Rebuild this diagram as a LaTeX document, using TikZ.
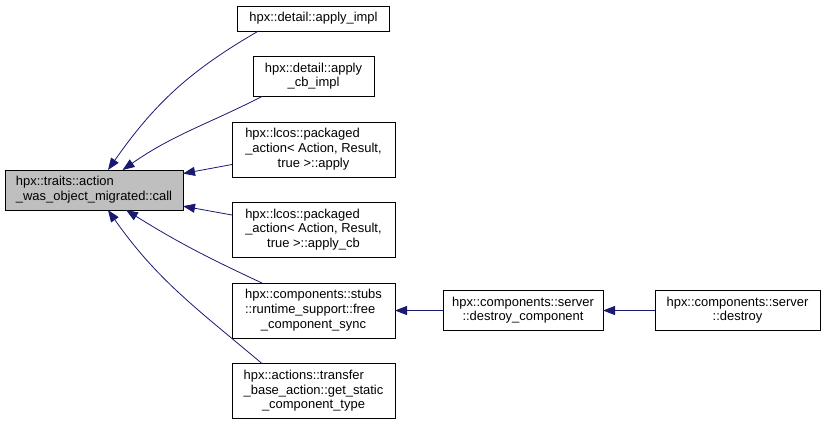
\documentclass[tikz,border=0pt]{standalone}
\usepackage{fontspec}
\setmainfont{Liberation Sans}
\usepackage{xcolor}
\usepackage{tikz}
\usetikzlibrary{arrows.meta,positioning}
\definecolor{azul}{HTML}{191970}
\newcommand{\etiq}[2]{\begin{tabular}{@{}l@{}}#1\\\multicolumn{1}{@{}c@{}}{#2}\end{tabular}}

\begin{document}
\begin{tikzpicture}[x=1bp,y=1bp,
  node distance=25.5bp,
  fn/.style={draw=black,line width=0.9bp,inner sep=0pt,outer sep=0pt,align=center,
             font=\fontsize{13}{15}\selectfont},
  actual/.style={fn,fill=black!25},
  fl/.style={-{Triangle[length=12bp,width=9bp]},draw=azul,line width=0.8bp}]
  \useasboundingbox (0,0) rectangle (825,-424);
  \node[actual,minimum width=178bp,minimum height=40bp] (r) at (94,-190)
    {\etiq{hpx::traits::action}{\_was\_object\_migrated::call}};
  \node[fn,minimum width=152bp,minimum height=25bp] (a) at (313.5,-18.5) {hpx::detail::apply\_impl};
  \node[fn,minimum width=121bp,minimum height=40bp,below=of a] (b) {\etiq{hpx::detail::apply}{\_cb\_impl}};
  \node[fn,minimum width=163bp,minimum height=55bp,below=of b] (c)
    {\etiq{hpx::lcos::packaged\\\_action< Action, Result,}{true >::apply}};
  \node[fn,minimum width=163bp,minimum height=55bp,below=of c] (d)
    {\etiq{hpx::lcos::packaged\\\_action< Action, Result,}{true >::apply\_cb}};
  \node[fn,minimum width=163bp,minimum height=55bp,below=of d] (e)
    {\etiq{hpx::components::stubs\\::runtime\_support::free}{\_component\_sync}};
  \node[fn,minimum width=163bp,minimum height=55bp,below=of e] (f)
    {\etiq{hpx::actions::transfer\\\_base\_action::get\_static}{\_component\_type}};
  \node[fn,minimum width=160bp,minimum height=40bp,right=48bp of e] (g)
    {\etiq{hpx::components::server}{::destroy\_component}};
  \node[fn,minimum width=165bp,minimum height=40bp,right=52bp of g] (h)
    {\etiq{hpx::components::server}{::destroy}};
  \draw[fl] ([xshift=21bp]a.south west) to[out=210,in=55] (r);
  \draw[fl] ([xshift=9bp]b.south west) to[out=207,in=35] (r);
  \draw[fl] ([yshift=-15bp]c.west) -- (r); \draw[fl] ([yshift=15bp]d.west) -- (r);
  \draw[fl] ([xshift=30bp]e.north west) to[out=155,in=-32] (r);
  \draw[fl] ([xshift=30bp]f.north west) to[out=140,in=-55] (r);
  \draw[fl] (g) -- (e); \draw[fl] (h) -- (g);
\end{tikzpicture}
\end{document}
